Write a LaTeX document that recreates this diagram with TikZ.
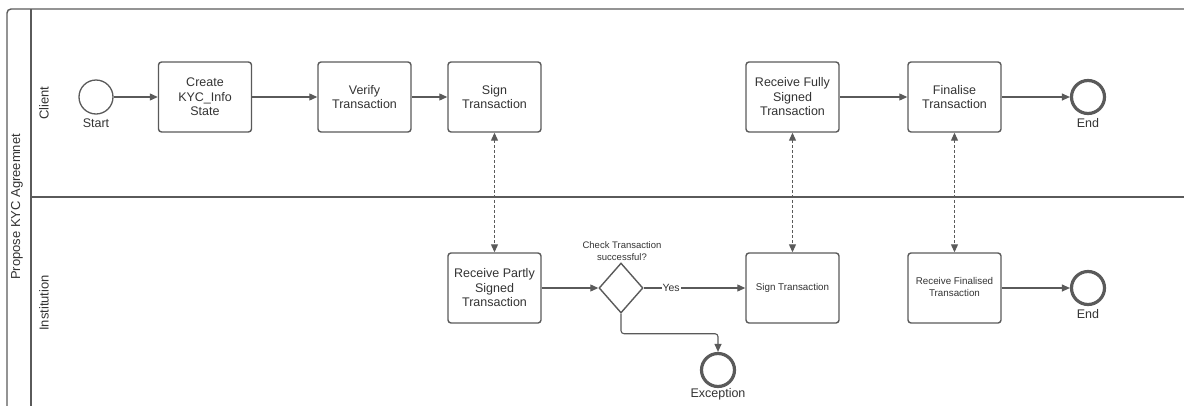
\documentclass[tikz,border=0pt]{standalone}
\usepackage{fontspec}
\setmainfont{Liberation Sans}
\usetikzlibrary{arrows.meta,shapes.geometric}
\definecolor{lineg}{HTML}{5A5A5A}
\definecolor{textg}{HTML}{333333}
\tikzset{
  task/.style={draw=lineg, line width=1.4pt, rounded corners=3pt, fill=white,
    minimum width=93pt, minimum height=70pt, align=center, text=textg,
    font=\fontsize{12.5}{14.5}\selectfont, inner sep=2pt},
  smalltask/.style={task, font=\fontsize{9.8}{12.5}\selectfont},
  startev/.style={circle, draw=lineg, line width=1.3pt, minimum size=34pt, inner sep=0pt},
  endev/.style={circle, draw=lineg, line width=3.2pt, minimum size=33pt, inner sep=0pt},
  gate/.style={diamond, draw=lineg, line width=1.4pt, minimum width=44pt, minimum height=50pt, inner sep=0pt, aspect=0.88},
  evlabel/.style={text=textg, font=\fontsize{12.5}{14}\selectfont, inner sep=0pt},
  lanelabel/.style={text=textg, font=\fontsize{13}{15}\selectfont, rotate=90, inner sep=0pt},
  flow/.style={draw=lineg, line width=1.1pt, -{Triangle[length=8pt,width=7pt]}},
  msg/.style={draw=lineg, line width=1.1pt, dash pattern=on 3pt off 2pt,
    {Triangle[length=8pt,width=7pt]}-{Triangle[length=8pt,width=7pt]}},
  pool/.style={draw=lineg, line width=1.4pt}
}
\begin{document}
\begin{tikzpicture}[x=1pt,y=-1pt]
\useasboundingbox (0,0) rectangle (1184,405);
% pool and lanes
\draw[pool, rounded corners=4pt] (7,410) -- (7,9) -- (1190,9);
\draw[pool] (31,9) -- (31,410);
\draw[pool] (31,197) -- (1190,197);
\node[lanelabel] (poolname) at (17,207) {Propose KYC Agreemnet};
\node[lanelabel] (clientlane) at (44,103) {Client};
\node[lanelabel] (instlane) at (44,303) {Institution};

% client lane
\node[startev] (start) at (96,97) {};
\node[evlabel] (startlbl) at (96,123) {Start};
\node[task] (create) at (205,97) {Create\\KYC\_Info\\State};
\node[task] (verify) at (364.5,97) {Verify\\Transaction};
\node[task] (sign) at (494.5,97) {Sign\\Transaction};
\node[task] (recfull) at (792.5,97) {Receive Fully\\Signed\\Transaction};
\node[task] (final) at (954.5,97) {Finalise\\Transaction};
\node[endev] (end1) at (1088,97) {};
\node[evlabel] (end1lbl) at (1088,123) {End};

% institution lane
\node[task] (recpart) at (494.5,288) {Receive Partly\\Signed\\Transaction};
\node[gate] (check) at (621,288) {};
\node[text=textg, font=\fontsize{9.5}{12}\selectfont, align=center, inner sep=0pt] (checklbl) at (622,251) {Check Transaction\\successful?};
\node[smalltask] (isign) at (792.5,288) {Sign Transaction};
\node[smalltask] (recfin) at (954.5,288) {};
\node[text=textg, font=\fontsize{9.8}{12.5}\selectfont, align=center, inner sep=0pt] (recfintxt) at (954.5,287) {Receive Finalised\\Transaction};
\node[endev] (end2) at (1088,288) {};
\node[evlabel] (end2lbl) at (1088,314) {End};
\node[endev] (exc) at (718,370) {};
\node[evlabel] (exclbl) at (718,394) {Exception};

% sequence flows
\draw[flow] (start) -- (create);
\draw[flow] (create) -- (verify);
\draw[flow] (verify) -- (sign);
\draw[flow] (recfull) -- (final);
\draw[flow] (final) -- (end1);
\draw[flow] (recpart) -- (check);
\draw[flow] (check) -- node[fill=white, inner sep=1pt, text=textg, font=\fontsize{10.5}{12}\selectfont, pos=0.27] (yes) {Yes} (isign);
\draw[flow] (recfin) -- (end2);
\draw[flow, rounded corners=3pt] (check.south) |- ++(97,20) -- (exc.north);

% message flows
\draw[msg] (sign) -- (recpart);
\draw[msg] (recfull) -- (isign);
\draw[msg] (final) -- (recfin);
\end{tikzpicture}
\end{document}
